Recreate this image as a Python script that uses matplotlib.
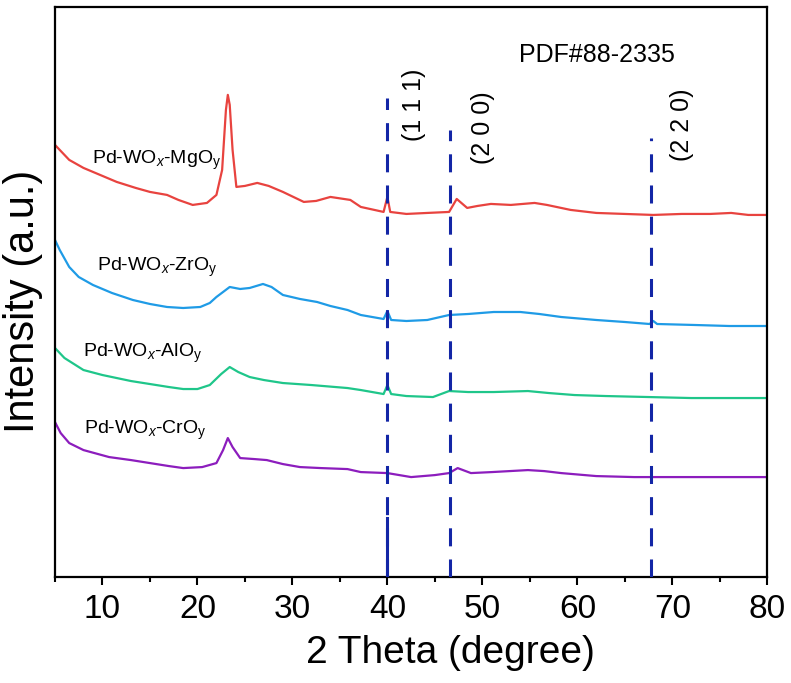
import matplotlib
matplotlib.use("Agg")
import matplotlib.pyplot as plt
from matplotlib.ticker import MultipleLocator

plt.rcParams['font.family'] = ['Liberation Sans', 'DejaVu Sans']
plt.rcParams['mathtext.fontset'] = 'custom'
plt.rcParams['mathtext.rm'] = 'Liberation Sans'
plt.rcParams['mathtext.it'] = 'Liberation Sans:italic'

# XRD patterns (intensity in arbitrary, already offset units)
mg_x = [5, 5.5, 6.5, 8, 10, 11.5, 13.5, 15, 16.8, 18, 19.5, 21, 22, 22.6, 23.0, 23.2, 23.4, 23.7,
        24.1, 25, 26.3, 27.5, 29, 31.2, 32.5, 34, 36.1, 37.2, 39.6, 40, 40.3, 42, 44.2, 46.5, 47.3,
        48.4, 49.5, 50.9, 53, 55.5, 56.8, 59.3, 62, 65, 68, 71, 74, 76.2, 78, 80]
mg_y = [432, 427, 417, 409, 401, 395, 389, 385, 382, 377, 372, 374, 382, 407, 467, 482, 472, 427,
        390, 391, 394, 391, 385, 375, 376, 380, 377, 370, 365, 380, 365, 363, 364, 365, 378,
        369, 371, 373, 372, 374, 372, 367, 364, 363, 362, 363, 363, 364, 362, 362]

zr_x = [5, 5.5, 6.5, 7.5, 9, 11, 13.2, 15, 16.8, 18.5, 20.3, 21.3, 22, 23.4, 24.5, 25.5, 26.9, 27.8,
        29, 30.8, 32.6, 34, 35.8, 37.2, 39.6, 40, 40.4, 42, 44.2, 46.5, 48.5, 51.2, 54, 56, 58.3,
        62, 65, 67.6, 68, 68.4, 72.4, 76, 80]
zr_y = [337, 327, 310, 300, 292, 284, 277, 273, 270, 269, 270, 274, 280, 290, 288, 289, 293, 290,
        282, 278, 275, 271, 267, 262, 258, 266, 257, 256, 257, 262, 263, 265, 265, 263, 260,
        257, 255, 253, 256, 253, 252, 251, 251]

al_x = [5, 6, 8, 10, 11.5, 13, 15, 17, 18.5, 20, 21.3, 22.5, 23.4, 24.3, 25.5, 27, 29, 32, 35.8,
        37.2, 39.6, 40, 40.4, 42, 44.8, 46.5, 48.5, 51.2, 54.8, 57, 59.7, 63, 67.5, 72, 76, 80]
al_y = [229, 219, 207, 202, 199, 196, 193, 190, 188, 188, 192, 203, 210, 205, 200, 197, 194, 192, 189,
        187, 183, 192, 183, 181, 180, 186, 185, 185, 186, 184, 182, 181, 180, 179, 179, 179]

cr_x = [5, 5.6, 6.5, 8, 10.7, 13, 15, 17, 18.5, 20.5, 22, 22.7, 23.2, 23.7, 24.5, 26, 27.3, 29,
        30.8, 33, 35.8, 37.2, 40, 42.5, 45, 46.5, 47.4, 48.8, 51, 54.8, 56.5, 58.3, 62, 66, 70, 75, 80]
cr_y = [155, 144, 134, 127, 120, 117, 114, 111, 109, 110, 114, 127, 139, 130, 119, 118, 117, 113,
        110, 109, 108, 105, 104, 100, 102, 104, 109, 104, 105, 107, 106, 104, 101, 100, 100, 100, 100]

labels = ['Pd-WO$_x$-MgO$_\\mathregular{y}$', 'Pd-WO$_x$-ZrO$_\\mathregular{y}$',
          'Pd-WO$_x$-AlO$_\\mathregular{y}$', 'Pd-WO$_x$-CrO$_\\mathregular{y}$']
colors = ['#e8433f', '#1f9be6', '#1fc68a', '#8c1dbd']

# Pd reference lines (PDF#88-2335)
ref_pos = [40.0, 46.6, 67.8]
ref_top = [479, 447, 439]
ref_hkl = ['(1 1 1)', '(2 0 0)', '(2 2 0)']

fig = plt.figure(figsize=(7.91, 6.83), dpi=100)
ax = fig.add_subplot(111)
fig.subplots_adjust(left=0.0695, right=0.970, top=0.990, bottom=0.155)

for xs, ys, c in zip([mg_x, zr_x, al_x, cr_x], [mg_y, zr_y, al_y, cr_y], colors):
    ax.plot(xs, ys, color=c, lw=1.6, zorder=2)

# curve names
ax.text(8.95, 417, labels[0], fontsize=14, ha='left', va='center')
ax.text(9.4, 310, labels[1], fontsize=14, ha='left', va='center')
ax.text(7.9, 224, labels[2], fontsize=14, ha='left', va='center')
ax.text(8.1, 147, labels[3], fontsize=14, ha='left', va='center')

for xp, top, hkl, tx, ty in zip(ref_pos, ref_top, ref_hkl, [42.8, 50.1, 71.0], [472, 449, 452]):
    ax.plot([xp, xp], [0, top], color='#1326a6', lw=2.2, dashes=(5.9, 4.3), zorder=3)
    ax.text(tx, ty, hkl, fontsize=18, rotation=90, ha='center', va='center')
ax.plot([ref_pos[0], ref_pos[0]], [0, 59], color='#1326a6', lw=2.2, zorder=3)

ax.text(62.1, 522, 'PDF#88-2335', fontsize=18, ha='center', va='center')

ax.set_xlim(5, 80)
ax.set_ylim(0, 570)
ax.xaxis.set_major_locator(MultipleLocator(10))
ax.xaxis.set_minor_locator(MultipleLocator(5))
ax.tick_params(axis='x', which='major', direction='out', length=6, width=1.5, labelsize=24, pad=6)
ax.tick_params(axis='x', which='minor', direction='out', length=3.5, width=1.5)
ax.set_yticks([])
for s in ax.spines.values():
    s.set_linewidth(1.6)

ax.set_xlabel('2 Theta (degree)', fontsize=28)
ax.xaxis.set_label_coords(0.555, -0.102)
ax.set_ylabel('Intensity (a.u.)', fontsize=30)
ax.yaxis.set_label_coords(-0.017, 0.484)

plt.savefig('out.png', dpi=100)
